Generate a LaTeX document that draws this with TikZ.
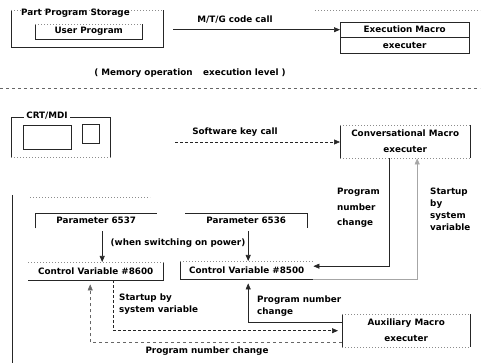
\documentclass[tikz,border=0pt]{standalone}
\usepackage{fontspec}
\setmainfont{DejaVu Sans}
\usetikzlibrary{arrows.meta}
\begin{document}
\begin{tikzpicture}[x=1pt,y=-1pt,
  every node/.style={font=\fontsize{8.8}{10}\selectfont\bfseries, inner sep=0pt},
  bx/.style={anchor=north west},
  solidln/.style={line width=0.6pt, draw=black!85},
  faint/.style={line width=0.5pt, draw=black!45, dash pattern=on 1pt off 2pt},
  dashln/.style={line width=0.5pt, draw=black!60, dash pattern=on 3pt off 3pt},
  arr/.style={solidln, -{Triangle[length=6pt,width=5pt]}},
  darr/.style={arr, dash pattern=on 3pt off 2pt},
  farr/.style={line width=0.5pt, draw=black!35, -{Triangle[length=6pt,width=5pt]}}
]
\useasboundingbox (0,0) rectangle (485,363);

% ---------------- Part program storage
\node[bx, minimum width=152pt, minimum height=37pt] (pps) at (11,10) {};
\draw[solidln] (pps.north west) -- (pps.south west) -- (pps.south east) -- (pps.north east);
\draw[faint] (pps.north west) -- (pps.north east);
\node (ppslbl) at (75.5,13) {Part Program Storage};
\node[bx, minimum width=107pt, minimum height=15pt] (up) at (35,24) {User Program};
\draw[solidln] (up.north west) -- (up.south west) -- (up.south east) -- (up.north east);
\draw[faint] (up.north west) -- (up.north east);

% ---------------- Execution macro
\node[bx, minimum width=129pt, minimum height=15pt] (emt) at (340,22) {Execution Macro};
\node[bx, minimum width=129pt, minimum height=16pt] (eme) at (340,37) {executer};
\draw[solidln] (emt.north west) rectangle (eme.south east);
\draw[solidln] (emt.south west) -- (emt.south east);
\coordinate (tl1) at (315,10);
\coordinate (tl2) at (480,10);
\draw[faint] (tl1) -- (tl2);

\draw[arr] ([xshift=10pt]emt.west -| pps.east) -- (emt.west);
\node (mtg) at (235,20) {M/T/G code call};

% ---------------- memory level
\node (mem) at (190,73) {( Memory operation\hspace{1.2em}execution level )};
\coordinate (ml1) at (0,88);
\coordinate (ml2) at (480,88);
\draw[dashln] (ml1) -- (ml2);

% ---------------- CRT/MDI
\node[bx, minimum width=99pt, minimum height=40pt] (crt) at (11,117) {};
\draw[solidln] (crt.south west) -- (crt.north west) -- (crt.north east) -- (crt.south east);
\draw[faint] (crt.south west) -- (crt.south east);
\node[fill=white, inner xsep=2pt] (crtlbl) at (47,116) {CRT/MDI};
\node[bx, solidln, minimum width=48pt, minimum height=24pt] (scr) at (23,125) {};
\node[bx, solidln, minimum width=17pt, minimum height=19pt] (kbd) at (82,124) {};

% ---------------- Conversational macro
\node[bx, minimum width=130pt, minimum height=33pt, align=center] (cm) at (340,125)
  {Conversational Macro\\[6pt]executer};
\draw[solidln] (cm.north west) -- (cm.south west);
\draw[solidln] (cm.north east) -- (cm.south east);
\draw[faint] (cm.north west) -- (cm.north east);
\draw[faint] (cm.south west) -- (cm.south east);

\node (swk) at (235,132) {Software key call};
\coordinate (sws) at (175,142);
\draw[darr] (sws) -- (sws -| cm.west);

% ---------------- lower frame
\coordinate (lf1) at (12,195);
\coordinate (lf2) at (12,363);
\draw[solidln] (lf1) -- (lf2);
\coordinate (lf3) at (30,197);
\coordinate (lf4) at (150,197);
\draw[faint] (lf3) -- (lf4);

% ---------------- parameters
\node[bx, minimum width=122pt, minimum height=15pt] (p37) at (35,213) {Parameter 6537};
\draw[solidln] (p37.south west) -- (p37.north west) -- (p37.north east);
\node[bx, minimum width=122pt, minimum height=15pt] (p36) at (185,213) {Parameter 6536};
\draw[solidln] (p36.north west) -- (p36.north east) -- (p36.south east);

% ---------------- control variables
\node[bx, minimum width=135pt, minimum height=18pt] (cv86) at (28,262) {Control Variable \#8600};
\draw[solidln] (cv86.south west) -- (cv86.south east) -- (cv86.north east);
\draw[faint] (cv86.north west) -- (cv86.north east);
\node[bx, minimum width=133pt, minimum height=18pt] (cv85) at (180,261) {Control Variable \#8500};
\draw[solidln] (cv85.north west) -- (cv85.south west) -- (cv85.south east);
\draw[faint] (cv85.north west) -- (cv85.north east);

\draw[arr] ([xshift=6pt,yshift=-3pt]p37.south) -- ([xshift=6pt]p37.south |- cv86.north);
\draw[arr] ([xshift=2pt,yshift=-3pt]p36.south) -- ([xshift=2pt]p36.south |- cv85.north);
\node (wsp) at (178,243) {(when switching on power)};

% ---------------- conversational macro <-> #8500
\draw[arr] ([xshift=-16pt]cm.south) |- ([yshift=4pt]cv85.east);
\node[anchor=north west, align=left] (pnc1) at (337,188) {Program\\[5.5pt]number\\[5.5pt]change};
\draw[farr] (cv85.south east) -| ([xshift=12pt]cm.south);
\node[anchor=north west, align=left] (sbs1) at (430,188) {Startup\\[2pt]by\\[2pt]system\\[2pt]variable};

% ---------------- auxiliary macro
\node[bx, minimum width=128pt, minimum height=33pt, align=center] (aux) at (342,314)
  {Auxiliary Macro\\[6pt]executer};
\draw[solidln] (aux.north west) -- (aux.south west);
\draw[solidln] (aux.north east) -- (aux.south east);
\draw[faint] (aux.north west) -- (aux.north east);
\draw[faint] (aux.south west) -- (aux.south east);

\draw[darr] ([xshift=17.5pt]cv86.south) |- ([xshift=-4pt]aux.west);
\node[anchor=north west, align=left] (sbs2) at (119,294) {Startup by\\[2pt]system variable};

\draw[arr, shorten >=4pt] ([yshift=8pt]aux.west) -| ([xshift=1.5pt]cv85.south);
\node[anchor=north west, align=left] (pnc2) at (257,296) {Program number\\[2pt]change};

\draw[dashln, -{Triangle[length=6pt,width=5pt]}, shorten >=4pt] ([yshift=-12pt]aux.west) -| ([xshift=-5.5pt]cv86.south);
\node (pnc3) at (207,351) {Program number change};
\end{tikzpicture}
\end{document}
